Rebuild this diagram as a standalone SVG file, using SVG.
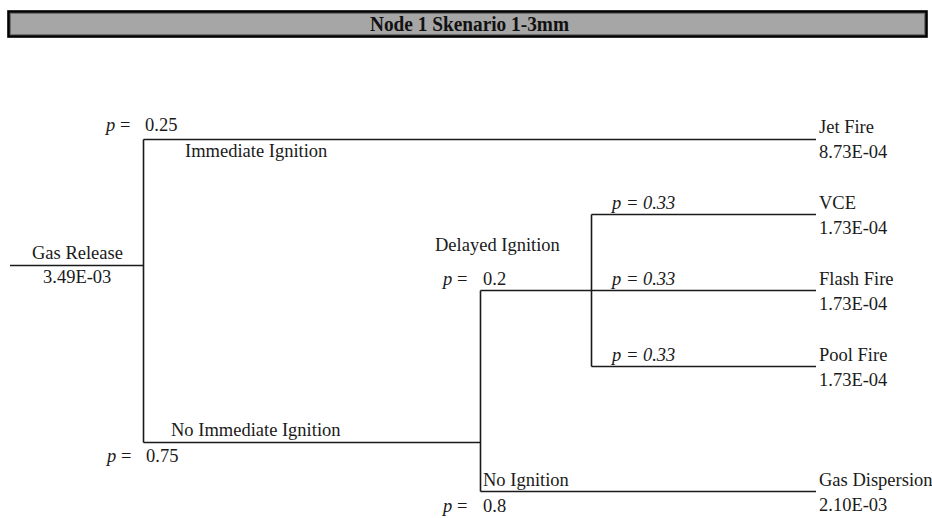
<svg xmlns="http://www.w3.org/2000/svg" width="932" height="518" viewBox="0 0 932 518">
  <style>
    .bg { fill: #ffffff; }
    .edge { fill: none; stroke: #1a1a1a; stroke-width: 1.6; }
    .lbl { font-family: "Liberation Serif", "Times New Roman", serif; font-size: 18.5px; fill: #1a1a1a; }
    .it { font-style: italic; }
    .title { font-family: "Liberation Serif", "Times New Roman", serif; font-size: 20px; font-weight: bold; fill: #111111; }
  </style>

  <rect class="bg" x="0" y="0" width="932" height="518"/>

  <!-- header bar -->
  <g id="title">
    <rect x="8.5" y="11.5" width="918" height="25" fill="#a6a6a6" stroke="#000000" stroke-width="2.6"/>
    <rect x="10.5" y="13.5" width="914" height="21" fill="none" stroke="#6e6e6e" stroke-width="1"/>
    <text class="title" x="370" y="30.5" textLength="199" lengthAdjust="spacingAndGlyphs">Node 1 Skenario 1-3mm</text>
  </g>

  <!-- branch lines -->
  <g id="connectors">
    <path class="edge" d="M10,265.5 H143.5"/>
    <path class="edge" d="M143.5,139.5 V442.5"/>
    <path class="edge" d="M143.5,139.5 H816"/>
    <path class="edge" d="M143.5,442.5 H480.5"/>
    <path class="edge" d="M480.5,290.5 V491.5"/>
    <path class="edge" d="M480.5,290.5 H816"/>
    <path class="edge" d="M480.5,491.5 H816"/>
    <path class="edge" d="M591.5,214.5 V366.5"/>
    <path class="edge" d="M591.5,214.5 H816"/>
    <path class="edge" d="M591.5,366.5 H816"/>
  </g>

  <!-- initiating event -->
  <g id="gas-release">
    <text class="lbl" x="32" y="259">Gas Release</text>
    <text class="lbl" x="43" y="283">3.49E-03</text>
  </g>

  <!-- first split -->
  <g id="immediate-ignition">
    <text class="lbl" x="106" y="131"><tspan class="it">p</tspan> =</text>
    <text class="lbl" x="145" y="131">0.25</text>
    <text class="lbl" x="185" y="157">Immediate Ignition</text>
  </g>

  <g id="no-immediate-ignition">
    <text class="lbl" x="171" y="436">No Immediate Ignition</text>
    <text class="lbl" x="107" y="462"><tspan class="it">p</tspan> =</text>
    <text class="lbl" x="146" y="462">0.75</text>
  </g>

  <!-- second split -->
  <g id="delayed-ignition">
    <text class="lbl" x="435" y="251">Delayed Ignition</text>
    <text class="lbl" x="443" y="285"><tspan class="it">p</tspan> =</text>
    <text class="lbl" x="483" y="285">0.2</text>
  </g>

  <g id="no-ignition">
    <text class="lbl" x="483" y="486">No Ignition</text>
    <text class="lbl" x="443" y="512"><tspan class="it">p</tspan> =</text>
    <text class="lbl" x="483" y="512">0.8</text>
  </g>

  <!-- delayed ignition outcomes -->
  <g id="vce-branch">
    <text class="lbl it" x="612" y="209">p = 0.33</text>
  </g>
  <g id="flash-fire-branch">
    <text class="lbl it" x="612" y="285">p = 0.33</text>
  </g>
  <g id="pool-fire-branch">
    <text class="lbl it" x="612" y="361">p = 0.33</text>
  </g>

  <!-- end states -->
  <g id="jet-fire">
    <text class="lbl" x="819" y="133">Jet Fire</text>
    <text class="lbl" x="819" y="158">8.73E-04</text>
  </g>
  <g id="vce">
    <text class="lbl" x="819" y="209">VCE</text>
    <text class="lbl" x="819" y="234">1.73E-04</text>
  </g>
  <g id="flash-fire">
    <text class="lbl" x="819" y="285">Flash Fire</text>
    <text class="lbl" x="819" y="310">1.73E-04</text>
  </g>
  <g id="pool-fire">
    <text class="lbl" x="819" y="361">Pool Fire</text>
    <text class="lbl" x="819" y="386">1.73E-04</text>
  </g>
  <g id="gas-dispersion">
    <text class="lbl" x="819" y="486">Gas Dispersion</text>
    <text class="lbl" x="819" y="511">2.10E-03</text>
  </g>
</svg>
